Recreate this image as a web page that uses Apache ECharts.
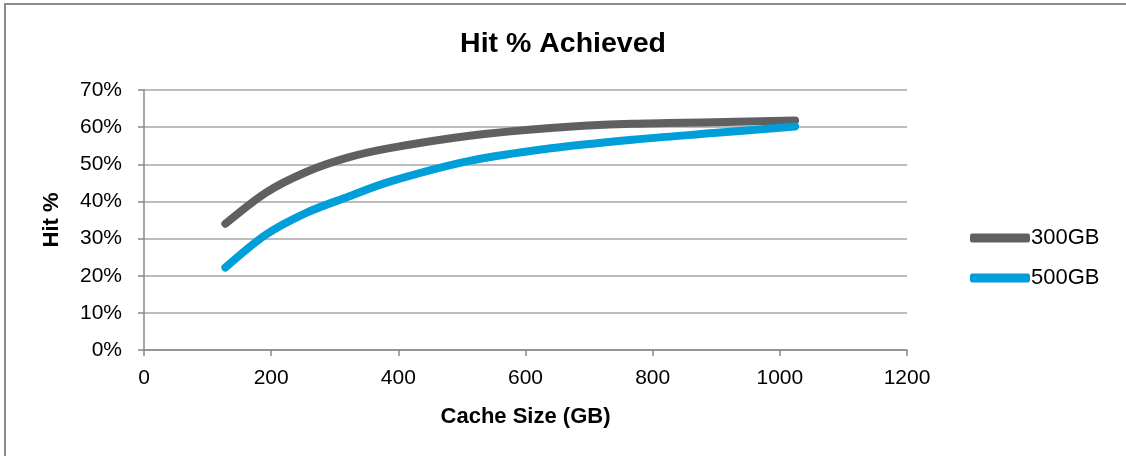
<!DOCTYPE html>
<html>
<head>
<meta charset="utf-8">
<script src="https://cdn.jsdelivr.net/npm/echarts@6/dist/echarts.min.js"></script>
<style>html,body{margin:0;padding:0;background:#fff;}#c{width:1126px;height:456px;}</style>
</head>
<body>
<div id="c"></div>
<script>
var cacheSizes = [128, 192, 256, 320, 384, 512, 640, 768, 896, 1024];
var hit300GB = [34.0, 42.4, 48.0, 51.8, 54.3, 57.7, 59.8, 60.9, 61.3, 61.8];
var hit500GB = [22.2, 31.1, 37.0, 41.2, 45.2, 50.9, 54.3, 56.6, 58.4, 60.2];
var seriesNames = ['300GB', '500GB'];
var titleText = 'Hit % Achieved';
var xAxisTitle = 'Cache Size (GB)';
var yAxisTitle = 'Hit %';

function pairs(xs, ys) { return xs.map(function (x, i) { return [x, ys[i]]; }); }

var chart = echarts.init(document.getElementById('c'));
var font = 'Liberation Sans, Arial, sans-serif';
chart.setOption({
  animation: false,
  backgroundColor: '#fff',
  textStyle: { fontFamily: font },
  graphic: [{
    type: 'rect', silent: true,
    shape: { x: 5, y: 4, width: 1200, height: 600 },
    style: { fill: 'none', stroke: '#8c8c8c', lineWidth: 2 }
  }],
  title: {
    text: titleText, left: 'center', top: 25,
    textStyle: { fontFamily: font, fontSize: 28.5, fontWeight: 'bold', color: '#000' }
  },
  legend: {
    orient: 'vertical', left: 970, top: 227, itemGap: 18, padding: 0,
    itemWidth: 60, itemHeight: 9, icon: 'roundRect',
    textStyle: { fontFamily: font, fontSize: 22, color: '#000', padding: [0, 0, 0, -4] },
    data: seriesNames
  },
  grid: { left: 144, right: 219, top: 90, bottom: 106, containLabel: false },
  xAxis: {
    type: 'value', min: 0, max: 1200, interval: 200,
    name: xAxisTitle, nameLocation: 'middle', nameGap: 56,
    nameTextStyle: { fontFamily: font, fontSize: 22, fontWeight: 'bold', color: '#000' },
    axisLine: { show: true, lineStyle: { color: '#888', width: 1.5 } },
    axisTick: { show: true, length: 6, lineStyle: { color: '#888', width: 1.5 } },
    axisLabel: { margin: 18, fontFamily: font, fontSize: 21, color: '#000', formatter: function (v) { return String(v); } },
    splitLine: { show: false }
  },
  yAxis: {
    type: 'value', min: 0, max: 70, interval: 10,
    name: yAxisTitle, nameLocation: 'middle', nameGap: 81, nameRotate: 90,
    nameTextStyle: { fontFamily: font, fontSize: 22, fontWeight: 'bold', color: '#000' },
    axisLine: { show: true, lineStyle: { color: '#888', width: 1.5 } },
    axisTick: { show: true, length: 6, lineStyle: { color: '#888', width: 1.5 } },
    axisLabel: { margin: 22, fontFamily: font, fontSize: 21, color: '#000', formatter: '{value}%' },
    splitLine: { show: true, lineStyle: { color: '#a6a6a6', width: 1.5 } }
  },
  series: [{
    name: seriesNames[0], type: 'line', smooth: 0.3, showSymbol: false, symbol: 'none',
    data: pairs(cacheSizes, hit300GB),
    itemStyle: { color: '#5f6062' },
    lineStyle: { color: '#5f6062', width: 8, cap: 'round', join: 'round' }
  }, {
    name: seriesNames[1], type: 'line', smooth: 0.3, showSymbol: false, symbol: 'none',
    data: pairs(cacheSizes, hit500GB),
    itemStyle: { color: '#009fda' },
    lineStyle: { color: '#009fda', width: 8, cap: 'round', join: 'round' }
  }]
});
</script>
</body>
</html>
